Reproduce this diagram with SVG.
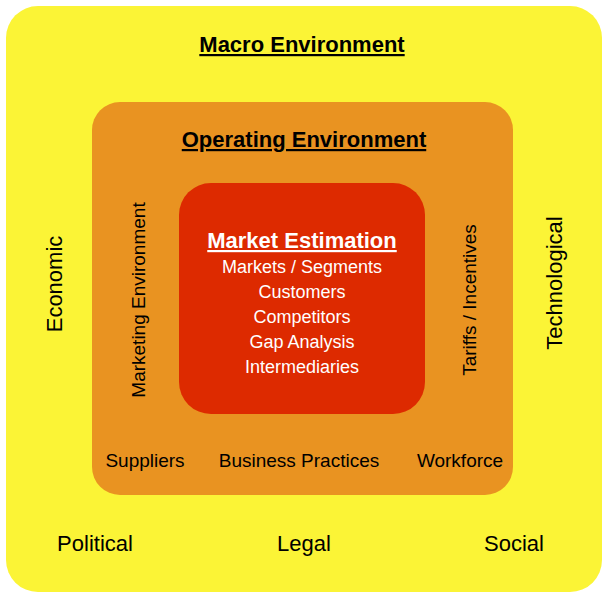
<svg xmlns="http://www.w3.org/2000/svg" width="609" height="598" viewBox="0 0 609 598">
<style>
text{font-family:"Helvetica Neue","Liberation Sans",Arial,sans-serif;text-anchor:middle}
.t{font-size:22px;font-weight:bold;text-decoration:underline;fill:#000}
.l{font-size:22px;fill:#000}
.m{font-size:19px;fill:#000}
.w{font-size:18px;fill:#fff}
</style>
<rect width="609" height="598" fill="#fff"/>
<g id="macro">
<rect x="6" y="6" width="596" height="586" rx="32" fill="#FBF436"/>
<text class="t" x="302" y="52">Macro Environment</text>
<text class="l" x="95" y="551">Political</text>
<text class="l" x="304" y="551">Legal</text>
<text class="l" x="514" y="551">Social</text>
<text class="l" transform="translate(62,284) rotate(-90)">Economic</text>
<text class="l" transform="translate(562,283) rotate(-90)">Technological</text>
</g>
<g id="operating">
<rect x="92" y="102" width="421" height="393" rx="28" fill="#E99321"/>
<text class="t" x="304" y="147">Operating Environment</text>
<text class="m" x="145" y="467">Suppliers</text>
<text class="m" x="299" y="467">Business Practices</text>
<text class="m" x="460" y="467">Workforce</text>
<text class="m" transform="translate(145,300) rotate(-90)">Marketing Environment</text>
<text class="m" transform="translate(476,300) rotate(-90)">Tariffs / Incentives</text>
</g>
<g id="market">
<rect x="179" y="183" width="246" height="231" rx="32" fill="#DD2A00"/>
<text x="302" y="248" style="font-size:22px;font-weight:bold;text-decoration:underline;fill:#fff">Market Estimation</text>
<text class="w" x="302" y="273">Markets / Segments</text>
<text class="w" x="302" y="298">Customers</text>
<text class="w" x="302" y="323">Competitors</text>
<text class="w" x="302" y="348">Gap Analysis</text>
<text class="w" x="302" y="373">Intermediaries</text>
</g>
<g id="connectors"/>
</svg>
